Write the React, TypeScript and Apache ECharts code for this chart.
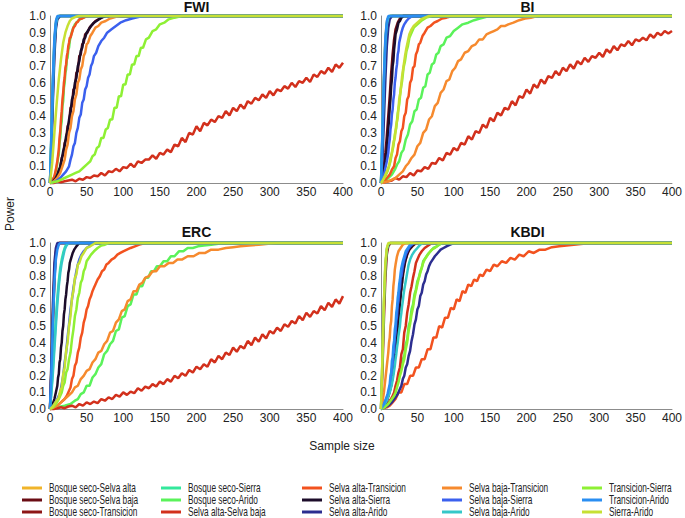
import React, { useEffect, useRef } from "react";
import * as echarts from "echarts";

const SERIES_NAMES = [
  "Bosque seco-Selva alta", "Bosque seco-Selva baja", "Bosque seco-Transicion",
  "Bosque seco-Sierra", "Bosque seco-Arido", "Selva alta-Selva baja",
  "Selva alta-Transicion", "Selva alta-Sierra", "Selva alta-Arido",
  "Selva baja-Transicion", "Selva baja-Sierra", "Selva baja-Arido",
  "Transicion-Sierra", "Transicion-Arido", "Sierra-Arido",
];
const SERIES_COLORS = [
  "#f0b42a", "#6a0c14", "#8e1616", "#34e89c", "#5af25a", "#d2301c",
  "#f2521f", "#1c0c2a", "#2c2e90", "#f68a2e", "#3b60ee", "#34c8c8",
  "#8ef034", "#2a8ef2", "#c6e034",
];
const PANEL_TITLES = ["FWI", "BI", "ERC", "KBDI"];
const X_MIN = 0, X_MAX = 400, X_STEP = 50;
const Y_MIN = 0, Y_MAX = 1, Y_STEP = 0.1;

// sample sizes of the step-5 grid used by the slow (Selva alta-Selva baja) curves
const SAMPLE_GRID_5 = Array.from({ length: 81 }, (_, i) => i * 5);

// ---------------- FWI ----------------
const FWI_BS_SA = [[0,0],[2,0.3],[4,0.62],[6,0.85],[8,0.96],[10,0.995],[12,1],[400,1]];
const FWI_BS_SB = [[0,0],[4,0.01],[8,0.03],[10,0.04],[12,0.08],[14,0.09],[16,0.15],[18,0.17],[20,0.24],[22,0.26],[24,0.34],[26,0.36],[28,0.45],[30,0.46],[32,0.56],[34,0.57],[36,0.66],[38,0.67],[40,0.76],[42,0.77],[44,0.83],[46,0.84],[48,0.89],[51,0.9],[54,0.93],[58,0.95],[62,0.97],[68,0.985],[75,1],[400,1]];
const FWI_BS_T = [[0,0],[2,0.25],[4,0.55],[6,0.8],[8,0.94],[10,0.99],[13,1],[400,1]];
const FWI_BS_SI = [[0,0],[2,0.28],[4,0.6],[6,0.83],[8,0.95],[10,0.99],[12,1],[400,1]];
const FWI_BS_A = [[0,0],[4,0.02],[7,0.05],[9,0.09],[11,0.15],[12,0.17],[13,0.24],[14,0.27],[15,0.34],[16,0.37],[17,0.46],[18,0.49],[19,0.57],[20,0.6],[21,0.66],[22,0.68],[23,0.74],[24,0.75],[25,0.8],[26,0.81],[27,0.85],[29,0.89],[31,0.92],[34,0.95],[38,0.97],[42,0.985],[48,0.995],[56,1],[400,1]];
const FWI_SA_SB = [0,0,0.01,0.005,0.01,0.015,0.02,0.01,0.025,0.02,0.035,0.03,0.045,0.04,0.06,0.045,0.07,0.065,0.085,0.07,0.095,0.09,0.115,0.095,0.13,0.12,0.14,0.14,0.165,0.145,0.18,0.17,0.2,0.185,0.23,0.22,0.27,0.245,0.3,0.29,0.34,0.31,0.36,0.345,0.38,0.365,0.4,0.39,0.43,0.405,0.45,0.43,0.47,0.445,0.49,0.475,0.51,0.495,0.53,0.51,0.55,0.525,0.56,0.55,0.58,0.565,0.6,0.575,0.61,0.6,0.63,0.605,0.65,0.635,0.67,0.655,0.69,0.665,0.71,0.69,0.72];
const FWI_SA_T = [[0,0],[3,0.01],[6,0.04],[8,0.08],[10,0.13],[12,0.2],[13,0.27],[14,0.31],[15,0.38],[16,0.43],[17,0.5],[18,0.54],[19,0.6],[20,0.63],[21,0.69],[22,0.71],[23,0.76],[24,0.78],[25,0.82],[26,0.84],[27,0.87],[28,0.87],[30,0.9],[32,0.93],[34,0.94],[36,0.96],[38,0.965],[40,0.98],[44,0.985],[48,0.995],[55,1],[400,1]];
const FWI_SA_SI = [[0,0],[4,0.01],[8,0.03],[10,0.05],[12,0.07],[14,0.1],[16,0.14],[18,0.19],[20,0.22],[22,0.28],[24,0.31],[26,0.38],[28,0.42],[30,0.5],[32,0.53],[34,0.6],[36,0.63],[38,0.7],[40,0.73],[42,0.79],[44,0.81],[46,0.86],[48,0.87],[50,0.9],[53,0.92],[56,0.94],[60,0.96],[65,0.975],[70,0.99],[76,1],[400,1]];
const FWI_SA_A = [[0,0],[2,0.2],[4,0.5],[6,0.76],[8,0.92],[10,0.98],[14,1],[400,1]];
const FWI_SB_T = [[0,0],[5,0.01],[10,0.03],[14,0.06],[17,0.1],[20,0.14],[22,0.2],[24,0.23],[26,0.3],[28,0.33],[30,0.4],[32,0.43],[34,0.5],[36,0.53],[38,0.6],[40,0.62],[42,0.68],[44,0.7],[46,0.76],[48,0.78],[50,0.83],[52,0.84],[55,0.88],[58,0.9],[62,0.93],[66,0.94],[70,0.96],[76,0.97],[82,0.985],[90,0.995],[98,1],[400,1]];
const FWI_SB_SI = [[0,0],[8,0.01],[14,0.03],[18,0.05],[22,0.07],[26,0.1],[28,0.14],[30,0.17],[32,0.22],[34,0.24],[36,0.3],[38,0.33],[40,0.39],[42,0.41],[44,0.48],[46,0.5],[48,0.56],[50,0.58],[52,0.63],[54,0.65],[56,0.7],[58,0.72],[60,0.76],[63,0.78],[66,0.82],[70,0.85],[74,0.87],[78,0.9],[84,0.92],[90,0.94],[96,0.96],[104,0.975],[112,0.985],[122,0.995],[132,1],[400,1]];
const FWI_SB_A = [[0,0],[2,0.3],[4,0.6],[6,0.84],[8,0.95],[10,0.99],[12,1],[400,1]];
const FWI_T_SI = [[0,0],[10,0.01],[20,0.03],[30,0.05],[35,0.06],[40,0.07],[45,0.09],[50,0.11],[55,0.13],[58,0.16],[61,0.17],[64,0.21],[67,0.22],[70,0.27],[73,0.27],[76,0.32],[79,0.33],[82,0.38],[85,0.38],[88,0.45],[91,0.45],[94,0.52],[97,0.52],[100,0.59],[103,0.59],[106,0.65],[109,0.65],[112,0.71],[115,0.71],[118,0.76],[121,0.76],[124,0.81],[127,0.81],[131,0.86],[135,0.87],[140,0.91],[145,0.92],[150,0.95],[156,0.96],[162,0.98],[170,0.99],[180,1],[400,1]];
const FWI_T_A = [[0,0],[2,0.32],[4,0.64],[6,0.87],[8,0.97],[10,1],[400,1]];
const FWI_SI_A = [[0,0],[3,0.12],[6,0.3],[9,0.47],[12,0.62],[15,0.74],[18,0.84],[21,0.9],[24,0.94],[27,0.97],[30,0.985],[35,0.995],[40,1],[400,1]];

// ---------------- BI ----------------
const BI_BS_SA = [[0,0],[2,0.3],[4,0.62],[6,0.86],[8,0.96],[10,0.99],[12,1],[400,1]];
const BI_BS_SB = [[0,0],[2,0.04],[4,0.1],[6,0.18],[8,0.28],[10,0.4],[12,0.52],[14,0.66],[16,0.77],[18,0.86],[20,0.92],[23,0.96],[26,0.985],[30,1],[400,1]];
const BI_BS_T = [[0,0],[2,0.22],[4,0.5],[6,0.76],[8,0.92],[10,0.98],[13,1],[400,1]];
const BI_BS_SI = [[0,0],[2,0.28],[4,0.6],[6,0.84],[8,0.95],[10,0.99],[12,1],[400,1]];
const BI_BS_A = [[0,0],[5,0.01],[10,0.03],[15,0.05],[19,0.08],[22,0.11],[25,0.13],[28,0.18],[31,0.2],[34,0.26],[37,0.29],[40,0.35],[43,0.37],[46,0.43],[49,0.44],[52,0.5],[55,0.51],[58,0.57],[61,0.58],[64,0.65],[67,0.66],[70,0.71],[73,0.72],[76,0.77],[79,0.78],[82,0.82],[86,0.83],[90,0.87],[95,0.88],[100,0.91],[106,0.93],[112,0.95],[120,0.96],[128,0.975],[136,0.985],[145,0.995],[155,1],[400,1]];
const BI_SA_SB = [0,0.005,0.01,0.015,0.03,0.02,0.04,0.035,0.06,0.045,0.075,0.07,0.095,0.085,0.12,0.115,0.15,0.135,0.18,0.17,0.21,0.195,0.24,0.23,0.28,0.26,0.31,0.3,0.35,0.33,0.39,0.37,0.42,0.405,0.45,0.44,0.49,0.465,0.52,0.51,0.56,0.535,0.59,0.57,0.62,0.595,0.64,0.63,0.67,0.645,0.69,0.67,0.71,0.685,0.73,0.71,0.75,0.725,0.76,0.75,0.78,0.755,0.8,0.78,0.82,0.795,0.83,0.82,0.85,0.825,0.86,0.85,0.87,0.855,0.89,0.87,0.9,0.885,0.91,0.895,0.91];
const BI_SA_T = [[0,0],[4,0.01],[8,0.03],[12,0.05],[15,0.08],[18,0.1],[20,0.15],[22,0.17],[24,0.23],[26,0.25],[28,0.31],[30,0.33],[32,0.4],[34,0.42],[36,0.5],[38,0.52],[40,0.6],[42,0.62],[44,0.69],[46,0.7],[48,0.77],[50,0.79],[52,0.83],[54,0.84],[57,0.88],[60,0.9],[64,0.93],[68,0.94],[73,0.96],[78,0.97],[84,0.985],[90,0.99],[98,1],[400,1]];
const BI_SA_SI = [[0,0],[2,0.03],[4,0.08],[6,0.14],[8,0.2],[9,0.27],[10,0.32],[11,0.38],[12,0.45],[13,0.5],[14,0.58],[15,0.62],[16,0.7],[17,0.73],[18,0.8],[19,0.84],[20,0.89],[22,0.92],[24,0.96],[26,0.97],[28,0.99],[31,1],[400,1]];
const BI_SA_A = [[0,0],[2,0.15],[4,0.38],[6,0.62],[8,0.82],[10,0.93],[12,0.98],[15,1],[400,1]];
const BI_SB_T = [[0,0],[5,0.005],[10,0.01],[15,0.02],[20,0.03],[25,0.05],[30,0.07],[34,0.1],[38,0.12],[42,0.15],[46,0.17],[50,0.22],[54,0.24],[58,0.3],[62,0.32],[66,0.38],[70,0.4],[74,0.46],[78,0.48],[82,0.54],[86,0.56],[90,0.61],[94,0.62],[98,0.67],[102,0.69],[106,0.73],[110,0.74],[115,0.78],[120,0.79],[125,0.82],[130,0.83],[135,0.86],[140,0.86],[145,0.89],[150,0.9],[155,0.91],[160,0.92],[165,0.94],[170,0.94],[175,0.95],[182,0.96],[190,0.975],[198,0.985],[206,0.99],[215,1],[400,1]];
const BI_SB_SI = [[0,0],[2,0.02],[4,0.05],[6,0.09],[8,0.13],[10,0.18],[11,0.23],[12,0.26],[13,0.32],[14,0.35],[15,0.41],[16,0.44],[17,0.5],[18,0.53],[19,0.6],[20,0.63],[21,0.68],[22,0.71],[23,0.77],[24,0.79],[25,0.84],[26,0.86],[28,0.9],[30,0.93],[32,0.95],[35,0.97],[38,0.985],[43,1],[400,1]];
const BI_SB_A = [[0,0],[2,0.3],[4,0.6],[6,0.84],[8,0.95],[10,0.99],[12,1],[400,1]];
const BI_T_SI = [[0,0],[3,0.02],[6,0.04],[9,0.07],[11,0.1],[13,0.13],[15,0.18],[17,0.22],[19,0.29],[21,0.33],[23,0.42],[25,0.47],[27,0.56],[29,0.61],[31,0.69],[33,0.73],[35,0.79],[37,0.82],[39,0.87],[42,0.9],[45,0.93],[50,0.95],[55,0.97],[62,0.99],[70,1],[400,1]];
const BI_T_A = [[0,0],[2,0.32],[4,0.64],[6,0.87],[8,0.97],[10,1],[400,1]];
const BI_SI_A = [[0,0],[3,0.02],[6,0.05],[9,0.08],[11,0.1],[13,0.15],[15,0.18],[17,0.24],[19,0.27],[21,0.35],[23,0.39],[25,0.5],[27,0.55],[29,0.64],[31,0.7],[33,0.76],[35,0.81],[37,0.85],[39,0.89],[42,0.92],[45,0.94],[50,0.96],[55,0.98],[60,0.99],[66,1],[400,1]];

// ---------------- ERC ----------------
const ERC_BS_SA = [[0,0],[2,0.28],[4,0.6],[6,0.84],[8,0.95],[10,0.99],[12,1],[400,1]];
const ERC_BS_SB = [[0,0],[2,0.22],[4,0.52],[6,0.78],[8,0.93],[10,0.98],[13,1],[400,1]];
const ERC_BS_T = [[0,0],[2,0.25],[4,0.56],[6,0.8],[8,0.94],[10,0.99],[13,1],[400,1]];
const ERC_BS_SI = [[0,0],[2,0.12],[4,0.25],[6,0.4],[8,0.54],[10,0.67],[12,0.77],[14,0.85],[16,0.9],[18,0.94],[20,0.97],[22,0.99],[25,1],[400,1]];
const ERC_BS_A = [[0,0],[10,0.01],[20,0.02],[28,0.03],[34,0.05],[38,0.06],[42,0.09],[46,0.1],[50,0.14],[54,0.14],[58,0.19],[62,0.21],[66,0.25],[70,0.27],[74,0.33],[78,0.35],[82,0.39],[86,0.41],[90,0.47],[94,0.48],[98,0.55],[102,0.56],[106,0.62],[110,0.63],[114,0.69],[118,0.69],[122,0.74],[126,0.74],[130,0.79],[134,0.79],[138,0.83],[142,0.83],[146,0.86],[150,0.86],[155,0.89],[160,0.89],[165,0.92],[170,0.92],[176,0.95],[182,0.95],[188,0.97],[195,0.97],[202,0.98],[210,0.985],[220,0.99],[230,0.995],[240,1],[400,1]];
const ERC_SA_SB = [0,0,0.005,0.01,0.005,0.015,0.02,0.01,0.03,0.02,0.04,0.03,0.045,0.035,0.06,0.05,0.07,0.06,0.085,0.075,0.1,0.085,0.105,0.095,0.125,0.11,0.135,0.125,0.15,0.135,0.165,0.15,0.18,0.165,0.2,0.185,0.215,0.2,0.235,0.22,0.255,0.24,0.27,0.255,0.3,0.28,0.32,0.3,0.34,0.325,0.37,0.345,0.38,0.365,0.41,0.385,0.43,0.405,0.45,0.425,0.47,0.455,0.49,0.47,0.51,0.495,0.53,0.515,0.56,0.535,0.58,0.555,0.59,0.575,0.62,0.595,0.64,0.615,0.66,0.635,0.68];
const ERC_SA_T = [[0,0],[5,0.01],[10,0.02],[15,0.04],[20,0.06],[23,0.08],[26,0.11],[28,0.13],[30,0.18],[32,0.2],[34,0.26],[36,0.28],[38,0.34],[40,0.37],[42,0.43],[44,0.46],[46,0.52],[48,0.55],[50,0.6],[52,0.62],[54,0.66],[56,0.68],[58,0.71],[60,0.73],[62,0.75],[65,0.78],[68,0.8],[71,0.83],[74,0.84],[77,0.87],[80,0.88],[84,0.9],[88,0.91],[92,0.93],[96,0.94],[100,0.95],[105,0.96],[110,0.97],[116,0.98],[122,0.99],[130,1],[400,1]];
const ERC_SA_SI = [[0,0],[3,0.02],[6,0.06],[8,0.1],[10,0.14],[11,0.19],[12,0.21],[13,0.28],[14,0.3],[15,0.37],[16,0.4],[17,0.47],[18,0.5],[19,0.57],[20,0.6],[21,0.66],[22,0.69],[23,0.74],[24,0.77],[25,0.82],[26,0.84],[27,0.88],[29,0.91],[31,0.94],[33,0.96],[36,0.98],[40,1],[400,1]];
const ERC_SA_A = [[0,0],[2,0.3],[4,0.64],[6,0.88],[8,0.97],[10,1],[400,1]];
const ERC_SB_T = [[0,0],[5,0.01],[10,0.02],[15,0.04],[20,0.06],[25,0.08],[30,0.1],[34,0.13],[38,0.14],[42,0.18],[46,0.2],[50,0.23],[54,0.24],[58,0.28],[62,0.3],[66,0.34],[70,0.35],[74,0.39],[78,0.41],[82,0.46],[86,0.47],[90,0.52],[94,0.54],[98,0.59],[102,0.6],[106,0.65],[110,0.66],[114,0.71],[118,0.71],[122,0.75],[126,0.76],[130,0.79],[135,0.8],[140,0.83],[145,0.83],[150,0.86],[156,0.86],[162,0.88],[168,0.88],[174,0.9],[180,0.9],[188,0.92],[196,0.92],[204,0.94],[212,0.94],[220,0.96],[230,0.96],[240,0.97],[250,0.975],[260,0.98],[272,0.985],[285,0.99],[298,0.995],[310,1],[400,1]];
const ERC_SB_SI = [[0,0],[3,0.01],[6,0.03],[9,0.05],[12,0.08],[14,0.1],[16,0.15],[18,0.2],[20,0.28],[22,0.34],[24,0.43],[26,0.51],[28,0.6],[30,0.66],[32,0.73],[34,0.78],[36,0.83],[38,0.87],[40,0.9],[43,0.93],[46,0.95],[50,0.97],[55,0.985],[61,1],[400,1]];
const ERC_SB_A = [[0,0],[2,0.1],[4,0.22],[6,0.36],[8,0.5],[10,0.63],[12,0.74],[14,0.82],[16,0.88],[18,0.92],[20,0.96],[22,0.98],[25,1],[400,1]];
const ERC_T_SI = [[0,0],[4,0.01],[8,0.03],[12,0.06],[14,0.08],[16,0.1],[18,0.14],[20,0.16],[22,0.22],[24,0.24],[26,0.3],[28,0.34],[30,0.42],[32,0.48],[34,0.56],[36,0.6],[38,0.67],[40,0.7],[42,0.76],[44,0.78],[46,0.83],[48,0.85],[50,0.89],[53,0.91],[56,0.93],[60,0.95],[65,0.97],[70,0.985],[75,0.99],[80,1],[400,1]];
const ERC_T_A = [[0,0],[2,0.24],[4,0.52],[6,0.76],[8,0.9],[10,0.96],[12,0.99],[14,1],[400,1]];
const ERC_SI_A = [[0,0],[3,0.01],[6,0.03],[9,0.05],[12,0.07],[14,0.11],[16,0.13],[18,0.21],[20,0.25],[22,0.35],[24,0.4],[26,0.5],[28,0.56],[30,0.67],[32,0.71],[34,0.79],[36,0.81],[38,0.87],[40,0.88],[43,0.92],[46,0.94],[50,0.97],[55,0.98],[62,1],[400,1]];

// ---------------- KBDI ----------------
const KBDI_BS_SA = [[0,0],[2,0.3],[4,0.62],[6,0.86],[8,0.96],[10,0.99],[12,1],[400,1]];
const KBDI_BS_SB = [[0,0],[4,0.02],[8,0.05],[11,0.1],[14,0.15],[16,0.19],[17,0.25],[18,0.27],[19,0.33],[20,0.35],[21,0.42],[22,0.44],[23,0.52],[24,0.54],[25,0.61],[26,0.63],[27,0.7],[28,0.72],[29,0.78],[30,0.8],[32,0.86],[34,0.9],[36,0.93],[39,0.96],[43,0.98],[48,1],[400,1]];
const KBDI_BS_T = [[0,0],[2,0.24],[4,0.54],[6,0.79],[8,0.93],[10,0.98],[13,1],[400,1]];
const KBDI_BS_SI = [[0,0],[2,0.3],[4,0.63],[6,0.86],[8,0.96],[10,0.99],[12,1],[400,1]];
const KBDI_BS_A = [[0,0],[5,0.01],[10,0.03],[15,0.05],[18,0.09],[20,0.1],[22,0.15],[24,0.17],[26,0.22],[28,0.24],[30,0.3],[32,0.32],[34,0.39],[36,0.42],[38,0.5],[40,0.53],[42,0.6],[44,0.63],[46,0.69],[48,0.72],[50,0.77],[52,0.79],[54,0.83],[56,0.85],[58,0.89],[61,0.91],[64,0.93],[68,0.95],[72,0.97],[77,0.98],[84,1],[400,1]];
const KBDI_SA_SB = [[0,0],[4,0.01],[8,0.03],[12,0.05],[15,0.07],[18,0.1],[20,0.14],[22,0.17],[24,0.22],[26,0.25],[28,0.33],[30,0.36],[32,0.46],[34,0.5],[36,0.58],[38,0.63],[40,0.7],[42,0.74],[44,0.79],[46,0.83],[48,0.88],[50,0.9],[53,0.93],[56,0.95],[60,0.97],[65,0.985],[70,1],[400,1]];
const KBDI_SA_T = [[0,0],[4,0.005],[8,0.01],[12,0.02],[16,0.04],[20,0.06],[24,0.1],[28,0.1],[32,0.15],[36,0.15],[40,0.2],[44,0.2],[48,0.25],[52,0.25],[56,0.3],[60,0.3],[64,0.36],[68,0.36],[72,0.43],[76,0.43],[80,0.5],[84,0.49],[88,0.55],[92,0.55],[96,0.61],[100,0.6],[104,0.66],[108,0.65],[112,0.71],[116,0.7],[120,0.75],[124,0.74],[128,0.78],[132,0.77],[136,0.81],[140,0.8],[145,0.84],[150,0.83],[155,0.87],[160,0.86],[166,0.89],[172,0.88],[178,0.91],[184,0.9],[190,0.93],[196,0.92],[203,0.95],[210,0.94],[218,0.96],[226,0.96],[235,0.975],[245,0.98],[255,0.985],[265,0.99],[278,0.995],[290,0.998],[300,1],[400,1]];
const KBDI_SA_SI = [[0,0],[4,0.02],[8,0.05],[11,0.09],[14,0.14],[16,0.2],[17,0.23],[18,0.28],[19,0.31],[20,0.37],[21,0.4],[22,0.46],[23,0.5],[24,0.56],[25,0.59],[26,0.65],[27,0.68],[28,0.74],[29,0.76],[30,0.82],[31,0.84],[33,0.89],[35,0.92],[37,0.95],[40,0.97],[44,0.99],[48,1],[400,1]];
const KBDI_SA_A = [[0,0],[5,0.01],[10,0.02],[15,0.04],[20,0.07],[23,0.09],[26,0.12],[28,0.14],[30,0.18],[32,0.2],[34,0.25],[36,0.27],[38,0.32],[40,0.35],[42,0.41],[44,0.45],[46,0.51],[48,0.54],[50,0.6],[52,0.62],[54,0.68],[56,0.7],[58,0.75],[60,0.77],[62,0.81],[64,0.83],[66,0.86],[68,0.88],[71,0.9],[74,0.92],[78,0.94],[82,0.96],[86,0.97],[90,0.98],[95,0.99],[100,1],[400,1]];
const KBDI_SB_T = [[0,0],[2,0.04],[4,0.1],[6,0.18],[8,0.26],[10,0.34],[11,0.4],[12,0.43],[13,0.5],[14,0.53],[15,0.62],[16,0.66],[17,0.74],[18,0.78],[19,0.84],[20,0.87],[22,0.92],[24,0.95],[27,0.97],[30,0.99],[34,1],[400,1]];
const KBDI_SB_SI = [[0,0],[3,0.02],[6,0.05],[9,0.08],[12,0.13],[14,0.18],[15,0.24],[16,0.26],[17,0.33],[18,0.35],[19,0.43],[20,0.46],[21,0.53],[22,0.56],[23,0.63],[24,0.65],[25,0.71],[26,0.73],[27,0.79],[28,0.8],[30,0.86],[32,0.9],[34,0.93],[37,0.96],[40,0.98],[45,1],[400,1]];
const KBDI_SB_A = [[0,0],[4,0.02],[8,0.05],[12,0.1],[15,0.15],[17,0.2],[19,0.26],[20,0.3],[21,0.33],[22,0.37],[23,0.4],[24,0.44],[25,0.47],[26,0.5],[27,0.55],[28,0.58],[29,0.62],[30,0.65],[31,0.69],[32,0.72],[34,0.77],[36,0.82],[38,0.87],[40,0.9],[43,0.93],[46,0.95],[50,0.97],[54,0.99],[58,1],[400,1]];
const KBDI_T_SI = [[0,0],[5,0.01],[10,0.03],[15,0.06],[18,0.08],[20,0.1],[22,0.13],[24,0.16],[26,0.2],[28,0.23],[30,0.27],[32,0.3],[34,0.36],[36,0.4],[38,0.47],[40,0.51],[42,0.57],[44,0.61],[46,0.67],[48,0.71],[50,0.75],[52,0.79],[54,0.82],[56,0.85],[58,0.88],[60,0.9],[63,0.92],[66,0.94],[70,0.96],[74,0.97],[78,0.985],[84,1],[400,1]];
const KBDI_T_A = [[0,0],[3,0.02],[6,0.05],[9,0.09],[12,0.15],[13,0.2],[14,0.22],[15,0.29],[16,0.31],[17,0.38],[18,0.41],[19,0.48],[20,0.51],[21,0.58],[22,0.61],[23,0.67],[24,0.7],[25,0.75],[26,0.78],[27,0.82],[28,0.85],[30,0.89],[32,0.92],[34,0.95],[37,0.97],[40,0.99],[44,1],[400,1]];
const KBDI_SI_A = [[0,0],[2,0.32],[4,0.65],[6,0.88],[8,0.97],[10,1],[400,1]];

const PANEL_SERIES = [
  [FWI_BS_SA, FWI_BS_SB, FWI_BS_T, FWI_BS_SI, FWI_BS_A, FWI_SA_SB, FWI_SA_T, FWI_SA_SI, FWI_SA_A, FWI_SB_T, FWI_SB_SI, FWI_SB_A, FWI_T_SI, FWI_T_A, FWI_SI_A],
  [BI_BS_SA, BI_BS_SB, BI_BS_T, BI_BS_SI, BI_BS_A, BI_SA_SB, BI_SA_T, BI_SA_SI, BI_SA_A, BI_SB_T, BI_SB_SI, BI_SB_A, BI_T_SI, BI_T_A, BI_SI_A],
  [ERC_BS_SA, ERC_BS_SB, ERC_BS_T, ERC_BS_SI, ERC_BS_A, ERC_SA_SB, ERC_SA_T, ERC_SA_SI, ERC_SA_A, ERC_SB_T, ERC_SB_SI, ERC_SB_A, ERC_T_SI, ERC_T_A, ERC_SI_A],
  [KBDI_BS_SA, KBDI_BS_SB, KBDI_BS_T, KBDI_BS_SI, KBDI_BS_A, KBDI_SA_SB, KBDI_SA_T, KBDI_SA_SI, KBDI_SA_A, KBDI_SB_T, KBDI_SB_SI, KBDI_SB_A, KBDI_T_SI, KBDI_T_A, KBDI_SI_A],
];

const FONT = "'Liberation Sans', Arial, sans-serif";

function toPairs(d: any[]): number[][] {
  if (d.length && typeof d[0] === "number") {
    return (d as number[]).map((v, i) => [SAMPLE_GRID_5[i], v]);
  }
  return d as number[][];
}

export default function App() {
  const ref = useRef<HTMLDivElement>(null);
  useEffect(() => {
    if (!ref.current) return;
    const chart = echarts.init(ref.current, undefined, { renderer: "svg" });
    const grids = [
      { left: 50, top: 16, width: 293, height: 167 },
      { left: 381, top: 16, width: 293, height: 167 },
      { left: 50, top: 243, width: 293, height: 166 },
      { left: 381, top: 243, width: 293, height: 166 },
    ];
    const axisLine = { show: true, lineStyle: { color: "#8c8c8c", width: 1 } };
    const xAxis = grids.map((_, i) => ({
      type: "value", gridIndex: i, min: X_MIN, max: X_MAX, interval: X_STEP,
      axisLine, axisTick: { show: false }, splitLine: { show: false },
      axisLabel: { fontSize: 12, color: "#222", fontFamily: FONT, margin: 3 },
    }));
    const yAxis = grids.map((_, i) => ({
      type: "value", gridIndex: i, min: Y_MIN, max: Y_MAX, interval: Y_STEP,
      axisLine, axisTick: { show: false }, splitLine: { show: false },
      axisLabel: { fontSize: 12, color: "#222", fontFamily: FONT, margin: 4,
        formatter: (v: number) => v.toFixed(1) },
    }));
    const series: any[] = [];
    PANEL_SERIES.forEach((panel, p) => {
      panel.forEach((d, i) => {
        series.push({
          type: "line", name: SERIES_NAMES[i], xAxisIndex: p, yAxisIndex: p,
          data: toPairs(d), showSymbol: false, symbol: "none", clip: false,
          lineStyle: { width: 2.5, color: SERIES_COLORS[i] },
          itemStyle: { color: SERIES_COLORS[i] }, silent: true,
        });
      });
    });
    const title = grids.map((g, i) => ({
      text: PANEL_TITLES[i], left: g.left + g.width / 2, top: Math.max(0, g.top - 18),
      textAlign: "center",
      textStyle: { fontSize: 14, fontWeight: "bold", color: "#111", fontFamily: FONT },
      padding: 0,
    }));
    // legend drawn as graphic elements so that the narrow lettering can be matched
    const colX = [22, 161, 302, 442, 582];
    const legendEls: any[] = [];
    SERIES_NAMES.forEach((name, i) => {
      const c = Math.floor(i / 3), r = i % 3;
      const x = colX[c], y = 488 + r * 12;
      legendEls.push({ type: "rect", shape: { x, y: y - 1.5, width: 20, height: 3 },
        style: { fill: SERIES_COLORS[i] }, silent: true });
      legendEls.push({ type: "text", x: x + 27, y, scaleX: 0.69,
        style: { text: name, x: 0, y: 0, fontSize: 12, fill: "#222", fontFamily: FONT,
          textVerticalAlign: "middle", textAlign: "left" }, silent: true });
    });
    chart.setOption({
      animation: false,
      backgroundColor: "#fff",
      grid: grids,
      xAxis, yAxis, series, title,
      graphic: [
        { type: "text", x: 10, y: 214, rotation: Math.PI / 2,
          style: { text: "Power", fontSize: 12, fill: "#222", fontFamily: FONT, textAlign: "center", textVerticalAlign: "middle" } },
        { type: "text", x: 342, y: 446,
          style: { text: "Sample size", fontSize: 12, fill: "#222", fontFamily: FONT, textAlign: "center", textVerticalAlign: "middle" } },
        ...legendEls,
      ],
    });
    return () => chart.dispose();
  }, []);
  return <div ref={ref} style={{ position: "absolute", left: 0, top: 0, width: 685, height: 518 }} />;
}
